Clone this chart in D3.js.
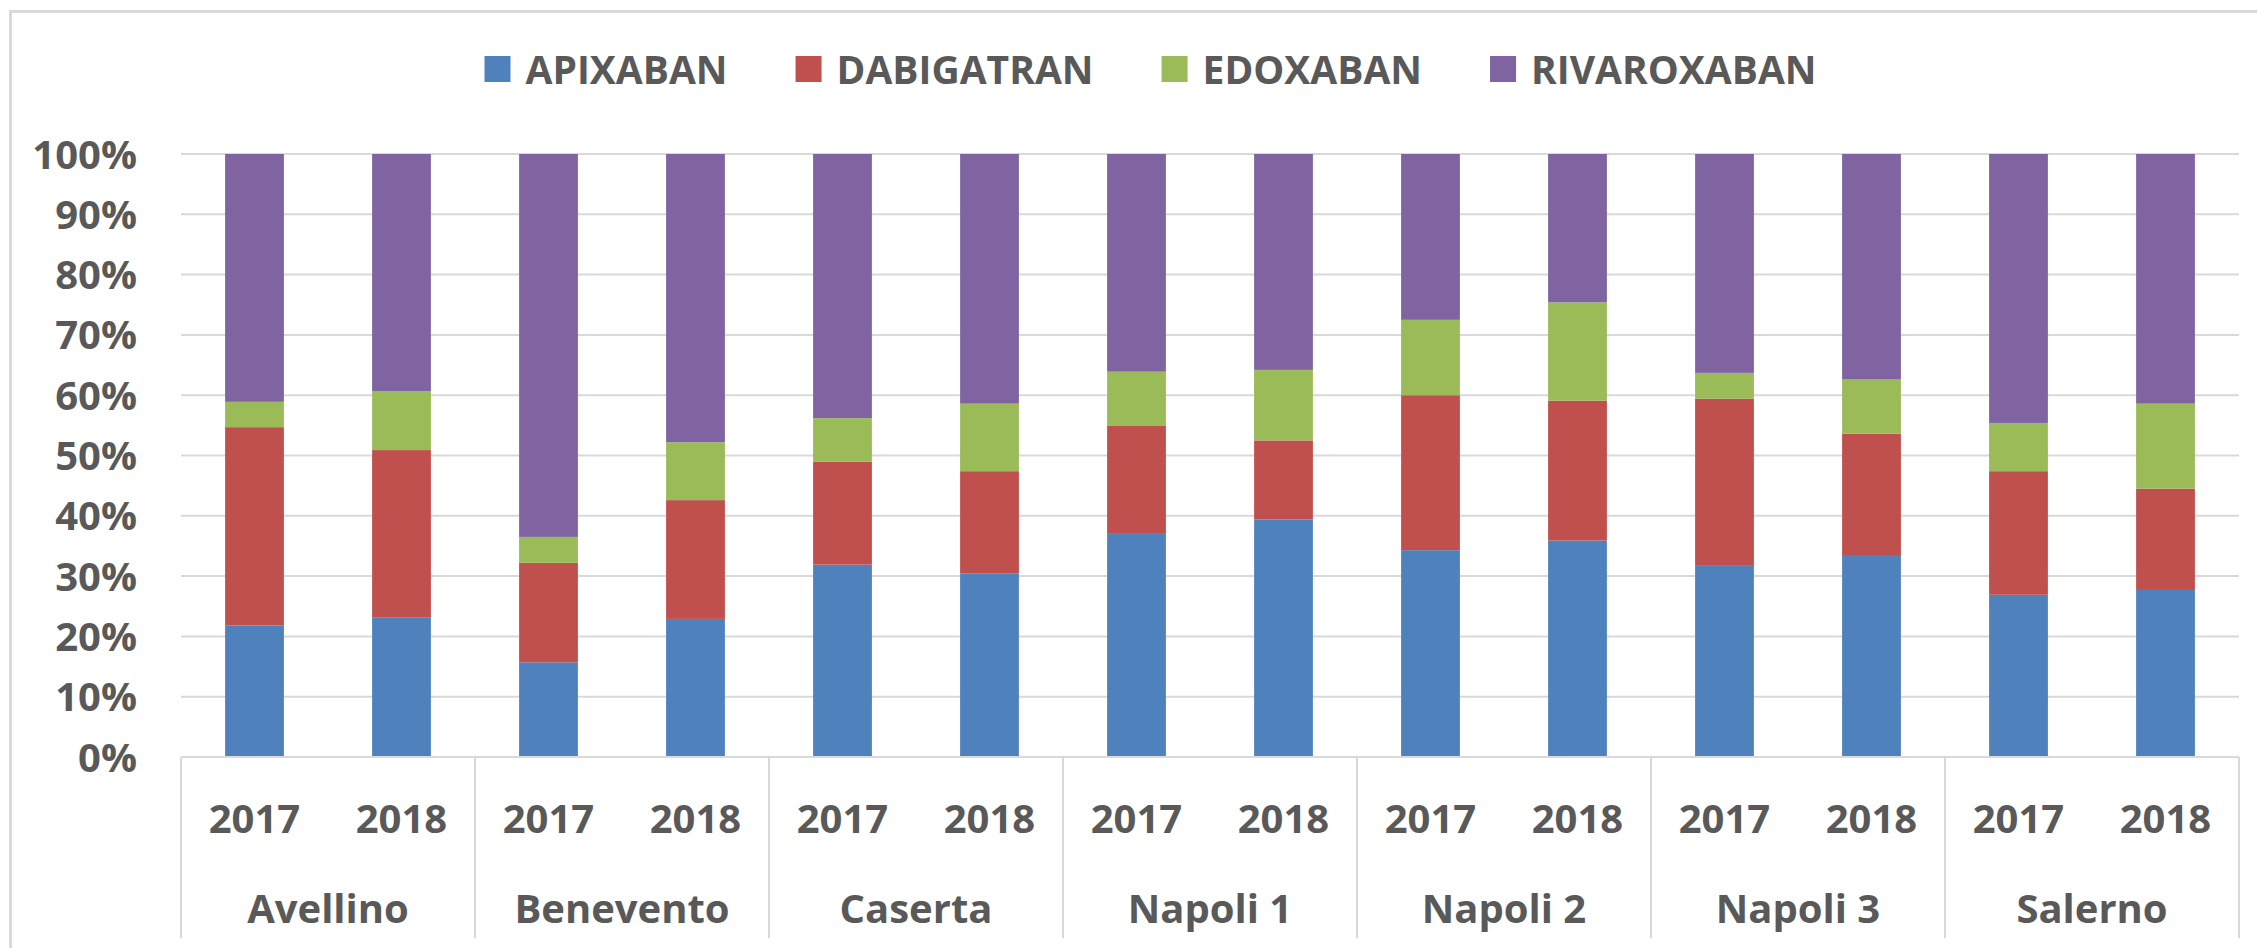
<!DOCTYPE html>
<html>
<head>
<meta charset="utf-8">
<script src="https://cdn.jsdelivr.net/npm/d3@7"></script>
<style>
  html, body { margin: 0; padding: 0; background: #ffffff; }
  svg { display: block; }
  text { font-family: "Open Sans", "Noto Sans", sans-serif; font-weight: 700; fill: #595959; }
</style>
</head>
<body>
<svg id="chart" width="2257" height="948"></svg>
<script>
// Regions (outer category level) and years (inner level)
const regions = ["Avellino", "Benevento", "Caserta", "Napoli 1", "Napoli 2", "Napoli 3", "Salerno"];
const years = ["2017", "2018"];

// Drug names shown in the legend
const drugs = ["APIXABAN", "DABIGATRAN", "EDOXABAN", "RIVAROXABAN"];

// Share (%) of each drug per region/year, in region order, 2017 then 2018
const apixaban    = [21.8, 23.1, 15.7, 22.9, 31.9, 30.4, 37.0, 39.4, 34.3, 35.9, 31.7, 33.5, 26.9, 27.7];
const dabigatran  = [32.9, 27.8, 16.5, 19.7, 17.1, 17.0, 17.9, 13.1, 25.7, 23.2, 27.7, 20.1, 20.5, 16.8];
const edoxaban    = [ 4.2,  9.8,  4.3,  9.6,  7.2, 11.2,  9.0, 11.7, 12.5, 16.3,  4.3,  9.0,  8.0, 14.1];
const rivaroxaban = [41.1, 39.3, 63.5, 47.8, 43.8, 41.4, 36.1, 35.8, 27.5, 24.6, 36.3, 37.4, 44.6, 41.4];

// Y axis tick values (fractions)
const yTicks = [0, 0.1, 0.2, 0.3, 0.4, 0.5, 0.6, 0.7, 0.8, 0.9, 1.0];

const colors = ["#4F81BD", "#C0504D", "#9BBB59", "#8064A2"];
const gridColor = "#d9d9d9";

// Build one row per bar
const seriesValues = [apixaban, dabigatran, edoxaban, rivaroxaban];
const rows = [];
regions.forEach((r, ri) => {
  years.forEach((y, yi) => {
    const i = ri * years.length + yi;
    const row = { key: r + "|" + y, region: r, year: y };
    drugs.forEach((d, di) => { row[d] = seriesValues[di][i]; });
    rows.push(row);
  });
});

const stacked = d3.stack()
  .keys(drugs)
  .offset(d3.stackOffsetExpand)(rows);

const svg = d3.select("#chart");

// Outer chart frame
svg.append("rect")
  .attr("x", 10.5).attr("y", 11.5)
  .attr("width", 2400).attr("height", 2000)
  .attr("fill", "none")
  .attr("stroke", gridColor)
  .attr("stroke-width", 3);

const plot = { left: 181, right: 2239, top: 154, bottom: 757 };

const x = d3.scaleBand()
  .domain(rows.map(d => d.key))
  .range([plot.left, plot.right])
  .paddingInner(0.6)
  .paddingOuter(0.3);

const xGroup = d3.scaleBand()
  .domain(regions)
  .range([plot.left, plot.right])
  .padding(0);

const y = d3.scaleLinear()
  .domain([0, 1])
  .range([plot.bottom, plot.top]);

// Horizontal gridlines
svg.append("g")
  .selectAll("line")
  .data(yTicks)
  .join("line")
  .attr("x1", plot.left).attr("x2", plot.right)
  .attr("y1", d => y(d)).attr("y2", d => y(d))
  .attr("stroke", gridColor)
  .attr("stroke-width", 2);

// Y axis labels
const yAxis = d3.axisLeft(y)
  .tickValues(yTicks)
  .tickFormat(d3.format(".0%"))
  .tickSize(0)
  .tickPadding(0);

const yAxisG = svg.append("g")
  .attr("transform", `translate(137,0)`)
  .call(yAxis);
yAxisG.select(".domain").remove();
yAxisG.selectAll("text")
  .attr("font-size", 40)
  .attr("dy", "0.35em")
  .style("font-family", "'Open Sans', sans-serif")
  .style("font-weight", 700)
  .style("fill", "#595959");

// Stacked bars
svg.append("g")
  .selectAll("g")
  .data(stacked)
  .join("g")
  .attr("fill", (d, i) => colors[i])
  .selectAll("rect")
  .data(d => d)
  .join("rect")
  .attr("x", d => x(d.data.key))
  .attr("width", x.bandwidth())
  .attr("y", d => y(d[1]))
  .attr("height", d => y(d[0]) - y(d[1]));

// Category axis: dividers between regions
const dividers = regions.map(r => xGroup(r)).concat([plot.right]);
svg.append("g")
  .selectAll("line")
  .data(dividers)
  .join("line")
  .attr("x1", d => d).attr("x2", d => d)
  .attr("y1", plot.bottom).attr("y2", 938)
  .attr("stroke", gridColor)
  .attr("stroke-width", 2);

// Baseline
svg.append("line")
  .attr("x1", plot.left).attr("x2", plot.right)
  .attr("y1", plot.bottom).attr("y2", plot.bottom)
  .attr("stroke", gridColor)
  .attr("stroke-width", 2);

// Year labels
svg.append("g")
  .selectAll("text")
  .data(rows)
  .join("text")
  .attr("x", d => x(d.key) + x.bandwidth() / 2)
  .attr("y", 833)
  .attr("text-anchor", "middle")
  .attr("font-size", 40)
  .text(d => d.year);

// Region labels
svg.append("g")
  .selectAll("text")
  .data(regions)
  .join("text")
  .attr("x", d => xGroup(d) + xGroup.bandwidth() / 2)
  .attr("y", 923)
  .attr("text-anchor", "middle")
  .attr("font-size", 40)
  .text(d => d);

// Legend, laid out left to right and centred
const legend = svg.append("g");
const items = legend.selectAll("g")
  .data(drugs)
  .join("g");
items.append("rect")
  .attr("width", 26).attr("height", 26)
  .attr("y", 56)
  .attr("fill", (d, i) => colors[i]);
items.append("text")
  .attr("x", 41)
  .attr("y", 84)
  .attr("font-size", 39)
  .text(d => d);

let cursor = 0;
const gap = 68;
items.each(function () {
  const w = 41 + this.querySelector("text").getComputedTextLength();
  d3.select(this).attr("transform", `translate(${cursor},0)`);
  cursor += w + gap;
});
const totalWidth = cursor - gap;
legend.attr("transform", `translate(${1150.5 - totalWidth / 2},0)`);
</script>
</body>
</html>
